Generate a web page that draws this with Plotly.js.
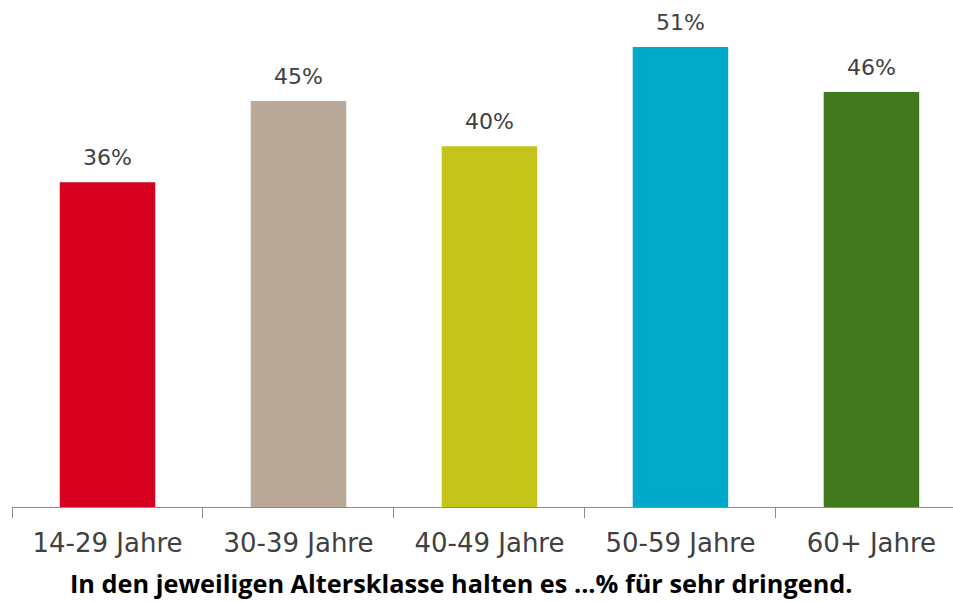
<!DOCTYPE html>
<html>
<head>
<meta charset="utf-8">
<script src="https://cdn.plot.ly/plotly-3.0.1.min.js"></script>
<style>html,body{margin:0;padding:0;background:#fff;}#chart{width:953px;height:602px;}</style>
</head>
<body>
<div id="chart"></div>
<script>
const categories = ["14-29 Jahre", "30-39 Jahre", "40-49 Jahre", "50-59 Jahre", "60+ Jahre"];
const values = [36, 45, 40, 51, 46];
const labels = ["36%", "45%", "40%", "51%", "46%"];
const colors = ["#D7001E", "#BAA898", "#C4C31A", "#00A9C7", "#42791E"];
const caption = "In den jeweiligen Altersklasse halten es ...% für sehr dringend.";

const trace = {
  type: "bar",
  x: categories,
  y: values,
  width: 0.5,
  marker: {color: colors, line: {width: 0}},
  hoverinfo: "none"
};

const annotations = categories.map((c, i) => ({
  x: c, y: values[i], xref: "x", yref: "y",
  text: labels[i], showarrow: false,
  yanchor: "bottom", yshift: 10,
  font: {family: "DejaVu Sans", size: 22, color: "#404040"}
}));
annotations.push({
  xref: "paper", yref: "paper", x: 0.4777, y: -0.150,
  xanchor: "center", yanchor: "middle", showarrow: false,
  borderpad: 0,
  text: "<b>" + caption + "</b>",
  font: {family: "Open Sans", size: 25.3, color: "#000000"}
});

const layout = {
  width: 953, height: 602,
  margin: {l: 12, r: 0, t: 0, b: 95},
  paper_bgcolor: "#ffffff", plot_bgcolor: "#ffffff",
  showlegend: false,
  xaxis: {
    type: "category",
    range: [-0.5, 4.427],
    showline: true, linecolor: "#8C8C8C", linewidth: 1,
    ticks: "outside", tickson: "boundaries", ticklen: 10, tickcolor: "#8C8C8C", tickwidth: 1,
    ticklabelstandoff: 13,
    showgrid: false, zeroline: false,
    tickfont: {family: "DejaVu Sans", size: 26, color: "#404040"},
    fixedrange: true
  },
  yaxis: {
    range: [0, 56.2],
    visible: false, showgrid: false, zeroline: false, fixedrange: true
  },
  annotations: annotations
};

Plotly.newPlot("chart", [trace], layout, {displayModeBar: false, staticPlot: true});
</script>
</body>
</html>
